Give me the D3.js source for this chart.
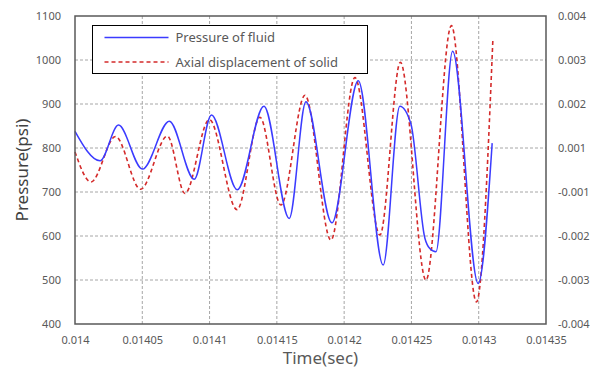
<!DOCTYPE html>
<html>
<head>
<meta charset="utf-8">
<script src="https://cdn.jsdelivr.net/npm/d3@7"></script>
<style>
  body { margin: 0; background: #fff; }
  text { font-family: "Noto Sans", "DejaVu Sans", sans-serif; }
</style>
</head>
<body>
<div id="chart"></div>
<script>
// pressure of fluid (psi) vs time (sec)
const pressureTime = [0.014, 0.0140186, 0.0140323, 0.0140501, 0.0140701, 0.0140886, 0.0141014, 0.0141206,
  0.0141404, 0.0141592, 0.0141716, 0.0141909, 0.0142105, 0.014229, 0.0142414, 0.0142496, 0.01426,
  0.0142635, 0.0142682, 0.0142806, 0.0142996, 0.01431];
const pressure = [838, 771, 852, 752, 861, 729, 875, 705,
  895, 640, 905, 630, 953, 534, 895, 855, 595,
  572, 564, 1020, 492, 811];

// axial displacement of solid vs time (sec)
const dispTime = [0.014, 0.0140119, 0.0140301, 0.0140487, 0.0140687, 0.0140817, 0.0140998, 0.0141204,
  0.0141374, 0.014153, 0.0141709, 0.0141902, 0.014208, 0.0142266, 0.0142418, 0.0142608, 0.0142797,
  0.0142983, 0.0143105];
const displacement = [0.00047, -0.00031, 0.00087, -0.0005, 0.00088, -0.00061, 0.00131, -0.00103,
  0.00137, -0.00091, 0.00194, -0.00182, 0.0024, -0.00169, 0.0028, -0.00286, 0.00375,
  -0.00343, 0.00337];

const xTicks = [0.014, 0.01405, 0.0141, 0.01415, 0.0142, 0.01425, 0.0143, 0.01435];
const yTicks = [400, 500, 600, 700, 800, 900, 1000, 1100];
const y2Labels = ['-0.004', '-0.003', '-0.002', '-0.001', '0.001', '0.002', '0.003', '0.004'];

const seriesNames = ['Pressure of fluid', 'Axial displacement of solid'];

const W = 608, H = 371;
const margin = { top: 16, right: 62, bottom: 47, left: 75 };
const width = W - margin.left - margin.right;
const height = H - margin.top - margin.bottom;

const svg = d3.select('#chart').append('svg')
  .attr('width', W)
  .attr('height', H);

const chart = svg.append('g')
  .attr('transform', `translate(${margin.left},${margin.top})`);

const xScale = d3.scaleLinear().domain([0.014, 0.01435]).range([0, width]);
const yScale = d3.scaleLinear().domain([400, 1100]).range([height, 0]);
const y2Scale = d3.scaleLinear().domain([-0.004, 0.004]).range([height, 0]);
const y2Labels_ = d3.scalePoint().domain(y2Labels).range([height, 0]);

// grid
chart.append('g')
  .selectAll('line.hgrid')
  .data(yTicks.slice(1, -1))
  .enter().append('line')
  .attr('x1', 0).attr('x2', width)
  .attr('y1', d => yScale(d)).attr('y2', d => yScale(d))
  .style('stroke', '#a6a6a6').style('stroke-dasharray', '3,2');

chart.append('g')
  .selectAll('line.vgrid')
  .data(xTicks.slice(1, -1))
  .enter().append('line')
  .attr('y1', 0).attr('y2', height)
  .attr('x1', d => xScale(d)).attr('x2', d => xScale(d))
  .style('stroke', '#a6a6a6').style('stroke-dasharray', '3,2');

// axes (labels only)
const xaxis = d3.axisBottom(xScale).tickValues(xTicks).tickSize(0).tickPadding(12)
  .tickFormat(d => String(+d.toFixed(5)));
const yaxis = d3.axisLeft(yScale).tickValues(yTicks).tickSize(0).tickPadding(14)
  .tickFormat(d3.format('d'));
const y2axis = d3.axisRight(y2Labels_).tickSize(0).tickPadding(12);

[
  chart.append('g').attr('transform', `translate(0,${height})`).call(xaxis),
  chart.append('g').call(yaxis),
  chart.append('g').attr('transform', `translate(${width},0)`).call(y2axis)
].forEach(g => {
  g.select('.domain').remove();
  g.selectAll('text').style('font-size', '11px').style('fill', '#595959');
});

// lines
const pLine = d3.line()
  .x((d, i) => xScale(pressureTime[i]))
  .y(d => yScale(d))
  .curve(d3.curveMonotoneX);

const dLine = d3.line()
  .x((d, i) => xScale(dispTime[i]))
  .y(d => y2Scale(d))
  .curve(d3.curveMonotoneX);

chart.append('path')
  .datum(displacement)
  .attr('d', dLine)
  .style('fill', 'none')
  .style('stroke', '#d42a2a')
  .style('stroke-width', 1.6)
  .style('stroke-dasharray', '4,3');

chart.append('path')
  .datum(pressure)
  .attr('d', pLine)
  .style('fill', 'none')
  .style('stroke', '#3b3bff')
  .style('stroke-width', 1.5);

// plot border
chart.append('rect')
  .attr('width', width).attr('height', height)
  .style('fill', 'none').style('stroke', '#595959').style('stroke-width', 1.5);

// axis titles
svg.append('text')
  .attr('x', margin.left + width / 2 + 10)
  .attr('y', 364)
  .attr('text-anchor', 'middle')
  .style('font-size', '17px').style('fill', '#595959')
  .text('Time(sec)');

svg.append('text')
  .attr('transform', `translate(28,${margin.top + height / 2}) rotate(-90)`)
  .attr('text-anchor', 'middle')
  .style('font-size', '17px').style('fill', '#404040')
  .text('Pressure(psi)');

// legend
const legend = svg.append('g').attr('transform', 'translate(92.5,25.5)');
legend.append('rect')
  .attr('width', 275).attr('height', 48)
  .style('fill', '#fff').style('stroke', '#000').style('stroke-width', 1);

const styles = [
  { stroke: '#3b3bff', dash: null },
  { stroke: '#d42a2a', dash: '4,3' }
];
seriesNames.forEach((name, i) => {
  const yy = 12 + i * 24.5;
  legend.append('line')
    .attr('x1', 12).attr('x2', 76).attr('y1', yy).attr('y2', yy)
    .style('stroke', styles[i].stroke).style('stroke-width', 1.5)
    .style('stroke-dasharray', styles[i].dash);
  legend.append('text')
    .attr('x', 83).attr('y', yy).attr('dy', '0.35em')
    .style('font-size', '13px').style('fill', '#595959')
    .text(name);
});
</script>
</body>
</html>
